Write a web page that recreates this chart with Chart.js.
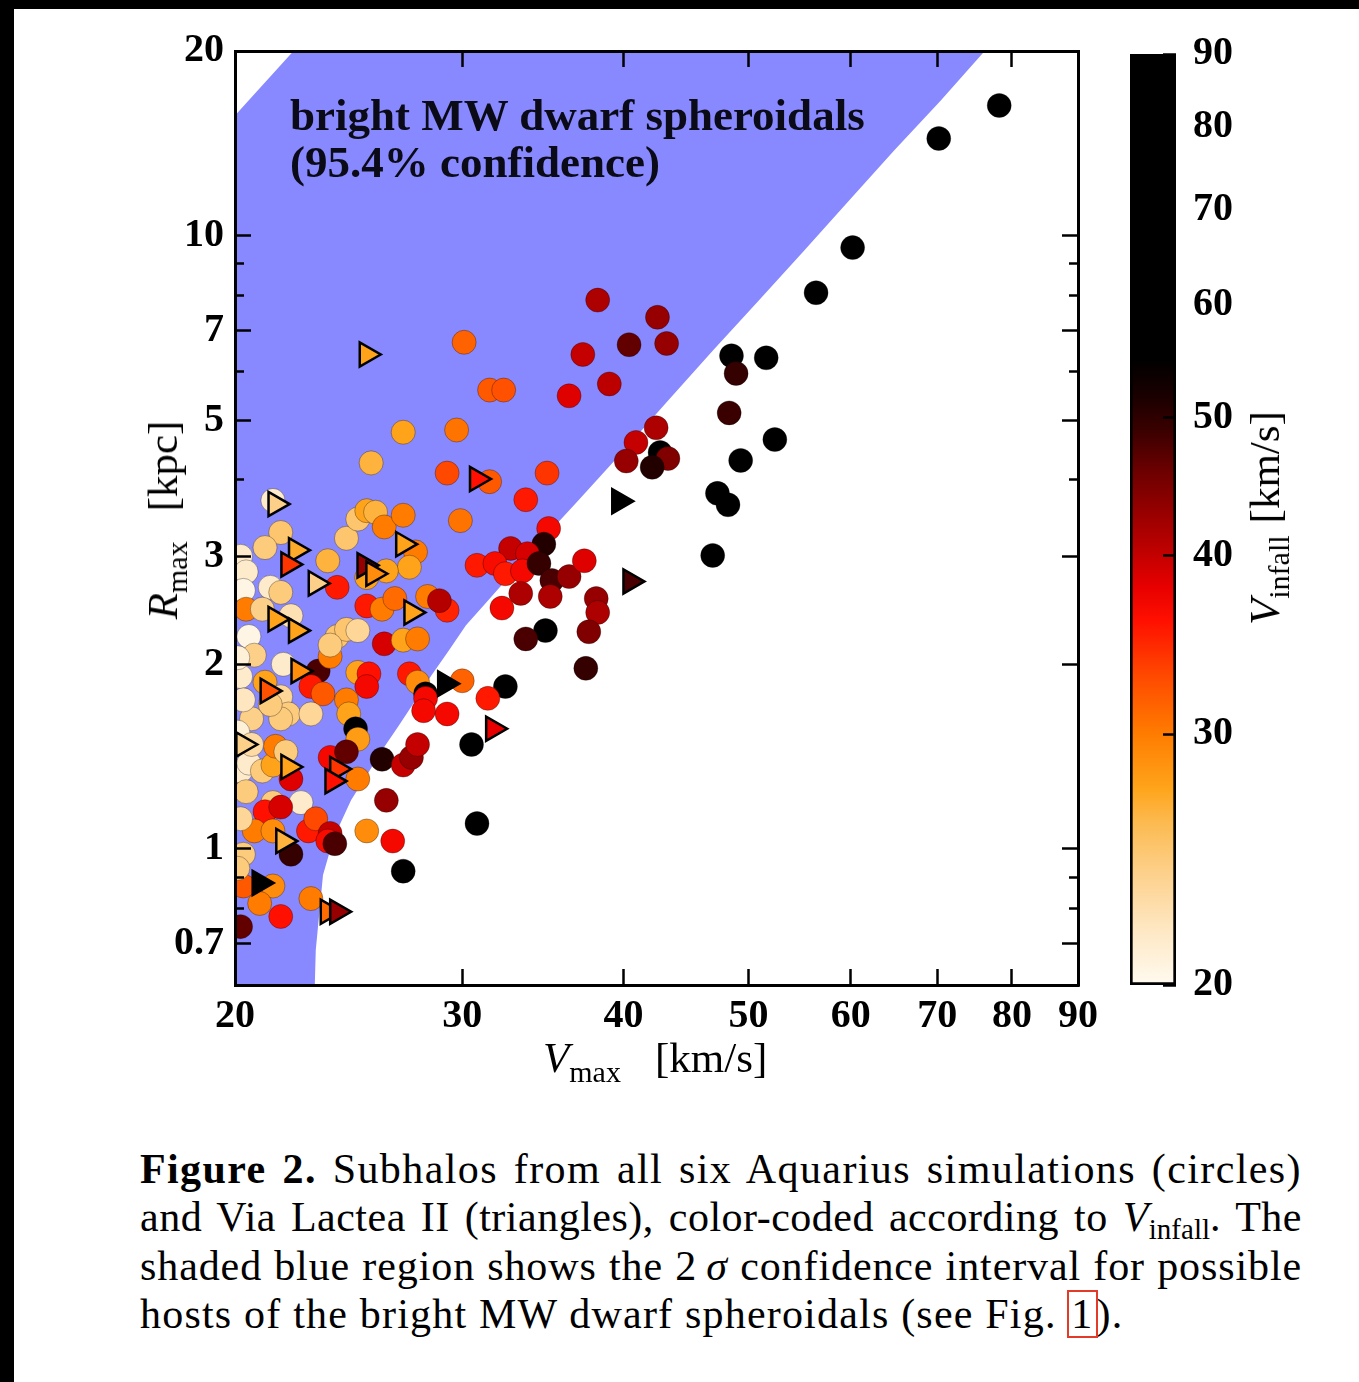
<!DOCTYPE html>
<html>
<head>
<meta charset="utf-8">
<title>Subhalos Vmax - Rmax</title>
<script src="https://cdn.jsdelivr.net/npm/chart.js@4.4.1/dist/chart.umd.min.js"></script>
<style>
  html, body { margin: 0; padding: 0; background: #fff; }
  body { position: relative; width: 1359px; height: 1382px; overflow: hidden;
         font-family: 'Liberation Serif', 'Times New Roman', serif; color: #000; }
  .band { position: absolute; background: #000; }
  canvas { position: absolute; top: 0; }
  .txt { position: absolute; white-space: nowrap; }
  .axt { font-size: 43px; line-height: 50px; }
  .axt sub { font-size: 30px; vertical-align: -10px; line-height: 0; }
  .rot { transform: translate(-50%, -50%) rotate(-90deg); }
  #note { left: 290px; top: 92px; font-weight: bold; font-size: 45px; line-height: 47px; color: #0b0b18; }
  #cap { position: absolute; left: 140px; top: 1145px; width: 1162px; font-size: 42px; line-height: 48.3px; }
  #cap .ln { height: 48.3px; text-align: justify; text-align-last: justify; }
  #cap .l1 { letter-spacing: 1.4px; }
  #cap .l2 { letter-spacing: 0.5px; }
  #cap .l3 { letter-spacing: 0.9px; }
  #cap .last { text-align-last: left; letter-spacing: 1.2px; }
  #cap sub { font-size: 29px; vertical-align: -8px; line-height: 0; letter-spacing: 0; }
  .ref { outline: 2px solid #e23b2a; outline-offset: -1px; padding: 0 3px; }
</style>
</head>
<body>
<div class="band" style="left:0;top:0;width:1359px;height:9px"></div>
<div class="band" style="left:0;top:0;width:14px;height:1382px"></div>

<canvas id="main" width="1122" height="1100" style="left:0"></canvas>
<canvas id="cbar" width="200" height="1100" style="left:1100px"></canvas>

<div class="txt" id="note">bright MW dwarf spheroidals<br>(95.4% confidence)</div>

<div class="txt axt" style="left:543px;top:1033px"><i>V</i><sub>max</sub><span style="margin-left:34px">[km/s]</span></div>
<div class="txt axt rot" style="left:163px;top:520px"><i>R</i><sub>max</sub><span style="margin-left:30px">[kpc]</span></div>
<div class="txt axt rot" style="left:1265px;top:518px"><i>V</i><sub>infall</sub><span style="margin-left:12px">[km/s]</span></div>

<div id="cap">
  <div class="ln l1"><b>Figure 2.</b> Subhalos from all six Aquarius simulations (circles)</div>
  <div class="ln l2">and Via Lactea II (triangles), color-coded according to <i>V</i><sub>infall</sub>. The</div>
  <div class="ln l3">shaded blue region shows the 2&#8201;<i>σ</i> confidence interval for possible</div>
  <div class="ln last">hosts of the bright MW dwarf spheroidals (see Fig. <span class="ref">1</span>).</div>
</div>

<script>
// ---- axes ----
const xTicks = [20, 30, 40, 50, 60, 70, 80, 90];
const yTicks = [0.7, 1, 2, 3, 5, 7, 10, 20];
const yMinorTicks = [0.8, 0.9, 4, 6, 8, 9];
const cbTicks = [20, 30, 40, 50, 60, 70, 80, 90];

// ---- 2 sigma region for the bright dwarfs (outline, Vmax / Rmax) ----
const regionV = [20, 23.06, 23.1, 23.2, 23.3, 23.4, 23.7, 24.1, 24.6, 25.3, 26.0, 26.8, 27.6, 28.4,
                 29.3, 30.2, 31.4, 34.0, 36.9, 40.0, 43.3, 46.9, 50.9, 55.2, 59.8, 64.8, 70.4, 76.2,
                 22.2, 20];
const regionR = [0.6, 0.6, 0.684, 0.752, 0.825, 0.907, 0.995, 1.093, 1.2, 1.319, 1.449, 1.591, 1.748, 1.919,
                 2.108, 2.315, 2.54, 3.07, 3.70, 4.46, 5.38, 6.49, 7.83, 9.45, 11.40, 13.75, 16.58, 20,
                 20, 15.7];

// ---- Aquarius subhalos (circles): Vmax, Rmax, Vinfall ----
const circV = [78.2, 70.2, 60.2, 56.4, 48.5, 51.6, 48.9, 48.3, 52.4, 49.3, 47.3, 48.2, 46.9,
  38.2, 42.5, 40.4, 43.2, 37.2, 39.0, 36.3, 30.1, 31.5, 32.3, 29.7, 29.2, 31.5, 34.9, 33.6, 29.9,
  35.0, 34.7, 32.7, 33.7, 30.8, 31.8, 32.4, 33.4, 34.4, 35.2, 36.3, 37.3, 33.3, 35.1, 38.1, 38.2,
  32.2, 37.6, 34.8, 33.6, 37.4, 32.4, 30.0, 31.4, 29.2, 42.4, 40.9, 40.2, 42.7, 43.3, 42.1,
  27.0, 25.5, 21.4, 21.7, 21.1, 20.2, 20.4, 20.3, 21.3, 21.7, 20.4, 21.0, 22.1, 20.5, 20.7, 20.2,
  21.1, 21.8, 21.7, 22.0, 20.6, 23.2, 22.9, 23.4, 22.9, 23.7, 24.0, 24.4, 24.9, 23.7, 24.9, 25.4,
  25.3, 24.4, 24.5, 23.6, 24.0, 24.4, 24.9, 25.3, 25.7, 26.1, 27.0, 27.6, 27.3, 26.2, 25.3, 25.3,
  26.0, 26.6, 28.2, 28.8, 26.1, 27.0, 27.7, 27.3, 27.7, 28.1, 28.1, 29.2, 24.8, 24.9,
  21.7, 21.3, 20.2, 20.5, 21.0, 21.4, 22.1, 21.5, 21.9, 20.4, 21.4, 22.5, 21.1, 21.7, 20.7, 21.4,
  22.1, 20.3, 22.8, 23.1, 23.7, 23.6, 23.9, 25.3, 26.5, 27.0, 23.7, 24.9, 24.4, 26.0, 27.0, 27.4,
  27.7, 28.0, 30.5, 26.2, 30.8, 21.4, 20.3, 20.9, 21.7, 20.2, 22.9,
  20.1, 20.3, 20.1, 20.6, 20.2, 20.1];
const circR = [16.3, 14.4, 9.56, 8.07, 6.37, 6.32, 5.96, 5.14, 4.65, 4.30, 3.80, 3.64, 3.01,
  7.85, 7.36, 6.64, 6.67, 6.40, 5.73, 5.48, 6.70, 5.60, 5.60, 4.82, 4.10, 3.97, 4.10, 3.71, 3.43,
  3.33, 3.14, 3.09, 3.03, 2.90, 2.92, 2.81, 2.84, 2.92, 2.74, 2.78, 2.95, 2.61, 2.58, 2.56, 2.43,
  2.47, 2.26, 2.27, 2.20, 1.97, 1.84, 1.88, 1.76, 2.45, 4.86, 4.60, 4.29, 4.43, 4.33, 4.19,
  4.78, 4.26, 3.70, 3.28, 3.10, 3.00, 2.83, 2.64, 2.67, 2.62, 2.46, 2.46, 2.40, 2.22, 2.07, 1.91,
  1.87, 2.00, 1.77, 1.66, 1.63, 1.95, 1.84, 1.79, 1.66, 2.06, 2.22, 2.28, 2.27, 2.15, 1.94, 1.93,
  1.84, 1.75, 1.66, 2.95, 2.67, 3.21, 3.45, 3.56, 3.54, 3.35, 3.50, 3.05, 2.88, 2.84, 2.77, 2.49,
  2.46, 2.56, 2.58, 2.54, 2.16, 2.19, 2.20, 1.93, 1.87, 1.79, 1.76, 1.66, 1.57, 1.51,
  1.63, 1.72, 1.34, 1.38, 1.34, 1.37, 1.30, 1.47, 1.44, 1.24, 1.19, 1.19, 1.15, 1.17, 1.07, 1.07,
  0.98, 0.98, 1.07, 1.12, 1.06, 1.03, 1.02, 1.07, 1.03, 0.92, 1.41, 1.30, 1.44, 1.40, 1.37, 1.41,
  1.48, 1.68, 1.48, 1.20, 1.10, 0.87, 0.87, 0.815, 0.776, 0.747, 0.83,
  1.55, 1.75, 2.05, 1.48, 1.12, 0.93];
const circVinf = [85, 80, 75, 70, 62, 65, 49.5, 49, 68, 60, 58, 62, 57,
  41.5, 43, 46.5, 43, 40, 40.5, 38.5, 31.5, 32, 32.5, 30.5, 33, 32, 34, 35.5, 30.5,
  37, 51, 40, 39, 35.5, 36.5, 35.5, 37, 49.5, 48, 43, 38.5, 41.5, 41.5, 43, 41.5,
  37, 44.5, 65, 48, 49.5, 62, 31.5, 35.5, 35, 41.5, 40, 43, 62, 44.5, 51,
  27.5, 26.5, 21.5, 25, 24.5, 21.5, 21.5, 20.5, 21.5, 24.5, 30, 24, 22.5, 20.5, 24, 21.5,
  27.5, 21.5, 23.5, 24.5, 24, 48, 35.5, 32, 23.5, 30, 25, 25, 23.5, 24.5, 27.5, 36,
  37, 30, 27.5, 26.5, 35.5, 25, 25, 27.5, 26.5, 30, 30, 30, 27.5, 27.5, 27.5, 35.5,
  30, 31, 30, 41, 39, 27.5, 30, 35.5, 29, 62, 37, 37, 60, 28,
  24.5, 24.5, 21.5, 21.5, 24.5, 27.5, 38.5, 30, 24.5, 24.5, 24.5, 21.5, 36, 39, 30, 29,
  49.5, 24.5, 35.5, 33, 40, 36.5, 48, 29, 37, 70, 37, 30, 46.5, 51, 40, 43,
  40, 37, 65, 43, 62, 29, 32, 30, 36, 46.5, 30,
  21, 22, 21, 23, 23.5, 24.5];

// ---- Via Lactea II subhalos (triangles) ----
const triV = [25.3, 30.8, 39.7, 40.5, 29.1, 21.5, 22.3, 22.0, 23.1, 21.5, 22.3, 21.2, 22.4,
  25.2, 25.6, 27.0, 27.4, 20.3, 22.0, 21.8, 24.0, 23.8, 20.9, 23.6, 24.0, 31.7];
const triR = [6.40, 4.01, 3.69, 2.73, 1.86, 3.65, 3.07, 2.91, 2.71, 2.37, 2.27, 1.81, 1.95,
  2.90, 2.81, 3.14, 2.43, 1.48, 1.36, 1.03, 1.35, 1.29, 0.88, 0.79, 0.79, 1.57];
const triVinf = [27.5, 36, 75, 48, 70, 24, 27, 34, 24, 27.5, 27.5, 32.5, 29,
  43, 29, 27.5, 27.5, 24, 27.5, 26.5, 34, 36, 70, 31, 43, 38];

// ---- colour map for Vinfall ----
const cmapV = [20, 22, 24, 26, 27.5, 30, 33, 36, 38, 40, 43, 46, 49, 52, 55, 90];
const cmapC = ['#fffaf0', '#fee6c0', '#fdd08a', '#fcba50', '#ffa41a', '#ff7c00', '#ff4800', '#ff1000',
               '#e80000', '#c40000', '#960000', '#6a0000', '#3a0000', '#180000', '#000000', '#000000'];

function hexRgb(h) {
  return [parseInt(h.slice(1, 3), 16), parseInt(h.slice(3, 5), 16), parseInt(h.slice(5, 7), 16)];
}
function colorFor(v) {
  if (v <= cmapV[0]) return cmapC[0];
  for (let i = 1; i < cmapV.length; i++) {
    if (v <= cmapV[i]) {
      const t = (v - cmapV[i - 1]) / (cmapV[i] - cmapV[i - 1]);
      const a = hexRgb(cmapC[i - 1]), b = hexRgb(cmapC[i]);
      const c = a.map((x, k) => Math.round(x + (b[k] - x) * t));
      return `rgb(${c[0]},${c[1]},${c[2]})`;
    }
  }
  return cmapC[cmapC.length - 1];
}

const serif = "'Liberation Serif', 'Times New Roman', serif";
const tickFont = { family: serif, size: 40, weight: 'bold' };

function setTicks(arr) { return s => { s.ticks = arr.map(v => ({ value: v })); }; }
function fixW(w) { return s => { s.width = w; }; }
function fixH(h) { return s => { s.height = h; }; }

function tickGrid(len) {
  return { drawOnChartArea: false, drawTicks: true, tickLength: len, tickWidth: 2.5,
           color: '#000', tickColor: '#000', z: 1 };
}
const frame = { display: true, color: '#000', width: 3, z: 1 };

function logAxis(pos, min, max, ticks, len, extra) {
  return Object.assign({
    type: 'logarithmic', position: pos, min: min, max: max,
    afterBuildTicks: setTicks(ticks),
    ticks: { display: false, autoSkip: false },
    grid: tickGrid(len),
    border: frame
  }, extra);
}

// ==========================================
// main scatter plot
// ==========================================
new Chart(document.getElementById('main'), {
  type: 'scatter',
  data: {
    datasets: [
      {
        label: 'VL2',
        order: 1,
        data: triV.map((v, i) => ({ x: v, y: triR[i] })),
        pointStyle: 'triangle',
        rotation: 90,
        pointRadius: 14,
        pointBorderWidth: 2.5,
        pointBorderColor: '#000',
        pointBackgroundColor: triVinf.map(colorFor),
        clip: 0
      },
      {
        label: 'Aquarius',
        order: 2,
        data: circV.map((v, i) => ({ x: v, y: circR[i] })),
        pointRadius: 12,
        pointBorderWidth: 1,
        pointBorderColor: 'rgba(0,0,0,0.3)',
        pointBackgroundColor: circVinf.map(colorFor),
        clip: 0
      },
      {
        label: 'region',
        order: 3,
        data: regionV.map((v, i) => ({ x: v, y: regionR[i] })),
        showLine: true,
        fill: 'shape',
        tension: 0,
        borderWidth: 0,
        borderColor: 'rgba(0,0,0,0)',
        backgroundColor: '#8888ff',
        pointRadius: 0,
        clip: 0
      }
    ]
  },
  options: {
    responsive: false,
    animation: false,
    events: [],
    layout: { padding: { top: 50, right: 22, bottom: 55, left: 0 } },
    plugins: { legend: { display: false }, tooltip: { enabled: false } },
    scales: {
      x: logAxis('bottom', 20, 90, xTicks, -16, {
        weight: 1, afterFit: fixH(60),
        ticks: { display: true, autoSkip: false, maxRotation: 0, font: tickFont, color: '#000',
                 padding: 24, callback: v => String(v) }
      }),
      xTop: logAxis('top', 20, 90, xTicks, -16, { afterFit: fixH(0) }),
      y: logAxis('left', 0.6, 20, yTicks, -16, {
        weight: 1, afterFit: fixW(235),
        ticks: { display: true, autoSkip: false, font: tickFont, color: '#000',
                 padding: 27, callback: v => String(v) }
      }),
      yMinor: logAxis('left', 0.6, 20, yMinorTicks, -9, { weight: 0, afterFit: fixW(0), border: { display: false } }),
      yRight: logAxis('right', 0.6, 20, yTicks, -16, { weight: 1, afterFit: fixW(0) }),
      yRightMinor: logAxis('right', 0.6, 20, yMinorTicks, -9, { weight: 0, afterFit: fixW(0), border: { display: false } })
    }
  }
});

// ==========================================
// colour bar
// ==========================================
function barGradient(c) {
  const chart = c.chart;
  if (!chart.chartArea) return '#000';
  const ys = chart.scales.y;
  const y0 = ys.getPixelForValue(cbTicks[0]);
  const y1 = ys.getPixelForValue(cbTicks[cbTicks.length - 1]);
  const g = chart.ctx.createLinearGradient(0, y0, 0, y1);
  cmapV.forEach((v, i) => g.addColorStop((ys.getPixelForValue(v) - y0) / (y1 - y0), cmapC[i]));
  return g;
}

new Chart(document.getElementById('cbar'), {
  type: 'bar',
  data: {
    labels: ['Vinfall'],
    datasets: [{
      data: [[cbTicks[0], cbTicks[cbTicks.length - 1]]],
      backgroundColor: barGradient,
      borderColor: '#000',
      borderWidth: 3,
      borderSkipped: false,
      barPercentage: 1,
      categoryPercentage: 1
    }]
  },
  options: {
    responsive: false,
    animation: false,
    events: [],
    layout: { padding: { top: 50, right: 0, bottom: 115, left: 30 } },
    plugins: { legend: { display: false }, tooltip: { enabled: false } },
    scales: {
      x: { display: false },
      y: logAxis('right', 20, 90, cbTicks, -13, {
        afterFit: fixW(124),
        border: { display: false },
        ticks: { display: true, autoSkip: false, font: tickFont, color: '#000',
                 padding: 30, callback: v => String(v) }
      })
    }
  }
});
</script>
</body>
</html>
